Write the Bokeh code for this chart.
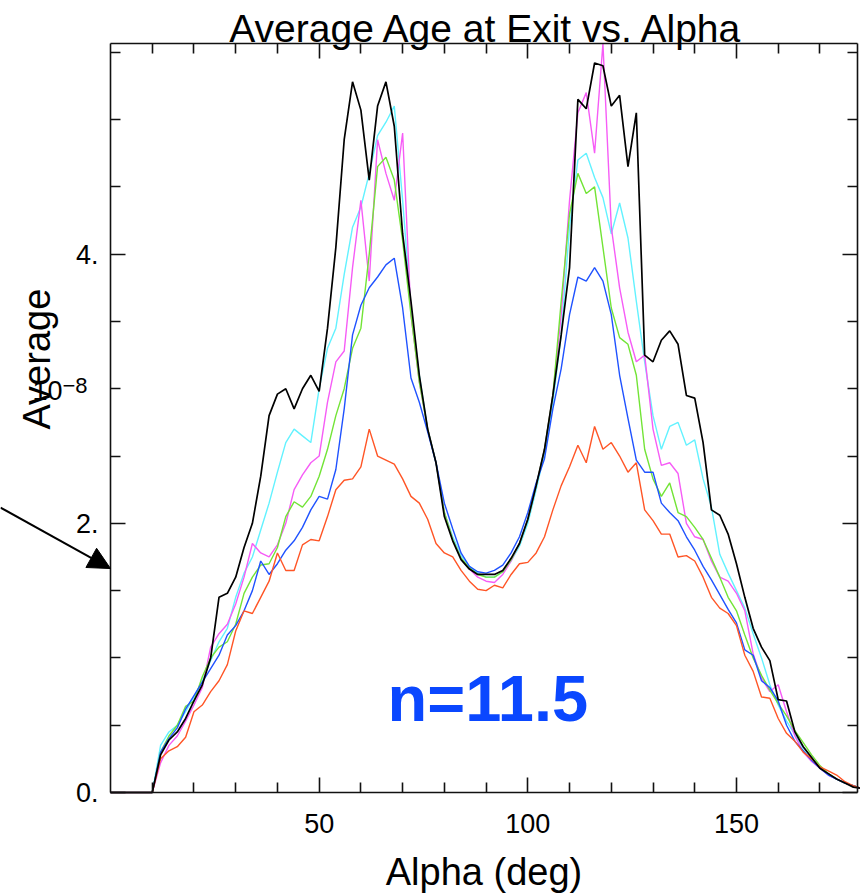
import math
from bokeh.plotting import figure
from bokeh.models import (Range1d, FixedTicker, LinearAxis, Label, Arrow,
                          NormalHead, CustomJSTickFormatter)
from bokeh.embed import file_html
from bokeh.resources import INLINE

# ---------------- data (Average age at exit, units of 1e-8) ----------------
alpha = list(range(0, 181, 2))  # Alpha (deg)

black = [0, 0, 0, 0, 0, 0, 0.28, 0.39, 0.45, 0.55,
         0.68, 0.80, 1.00, 1.45, 1.48, 1.60, 1.82, 2.00, 2.35, 2.80,
         2.96, 3.00, 2.85, 3.00, 3.10, 2.98, 3.45, 4.05, 4.85, 5.28,
         5.07, 4.55, 5.10, 5.28, 4.95, 4.15, 3.65, 3.10, 2.70, 2.45,
         2.05, 1.87, 1.73, 1.66, 1.62, 1.62, 1.62, 1.65, 1.74, 1.85,
         2.03, 2.28, 2.55, 2.95, 3.40, 3.90, 5.15, 5.08, 5.42, 5.40,
         5.10, 5.18, 4.65, 5.05, 3.25, 3.20, 3.36, 3.43, 3.33, 2.95,
         2.93, 2.60, 2.10, 2.06, 1.92, 1.70, 1.45, 1.22, 1.08, 0.98,
         0.69, 0.68, 0.45, 0.34, 0.26, 0.18, 0.14, 0.10, 0.07, 0.04,
         0.03]

cyan = [0, 0, 0, 0, 0, 0, 0.35, 0.45, 0.50, 0.60,
        0.71, 0.83, 0.98, 1.12, 1.22, 1.45, 1.63, 1.75, 1.95, 2.15,
        2.38, 2.60, 2.70, 2.65, 2.60, 3.00, 3.30, 3.45, 3.85, 4.20,
        4.35, 4.60, 4.88, 4.98, 5.10, 4.40, 3.60, 3.10, 2.70, 2.45,
        2.08, 1.90, 1.76, 1.68, 1.63, 1.60, 1.60, 1.64, 1.72, 1.83,
        2.00, 2.25, 2.52, 2.90, 3.40, 4.20, 4.70, 4.75, 4.57, 4.42,
        4.15, 4.38, 4.12, 3.65, 3.20, 2.80, 2.55, 2.72, 2.75, 2.58,
        2.62, 2.33, 2.12, 1.77, 1.63, 1.50, 1.37, 1.18, 1.00, 0.80,
        0.65, 0.53, 0.43, 0.33, 0.26, 0.18, 0.14, 0.10, 0.07, 0.05,
        0.03]

magenta = [0, 0, 0, 0, 0, 0, 0.22, 0.35, 0.42, 0.53,
           0.65, 0.78, 1.08, 1.18, 1.25, 1.40, 1.60, 1.85, 1.78, 1.75,
           1.84, 2.00, 2.25, 2.36, 2.45, 2.50, 2.90, 3.20, 3.28, 3.90,
           4.40, 3.80, 4.85, 4.60, 4.40, 4.90, 3.55, 3.05, 2.70, 2.45,
           2.08, 1.88, 1.74, 1.66, 1.60, 1.57, 1.56, 1.62, 1.72, 1.85,
           2.03, 2.28, 2.55, 2.95, 3.55, 4.40, 5.05, 5.20, 4.75, 5.565,
           4.20, 3.75, 3.42, 3.20, 3.25, 2.70, 2.43, 2.45, 2.37, 2.00,
           1.90, 1.88, 1.72, 1.60, 1.57, 1.48, 1.35, 1.03, 0.85, 0.75,
           0.80, 0.60, 0.42, 0.30, 0.23, 0.18, 0.13, 0.10, 0.07, 0.05,
           0.03]

green = [0, 0, 0, 0, 0, 0, 0.30, 0.42, 0.50, 0.64,
         0.68, 0.86, 1.00, 1.08, 1.12, 1.25, 1.48, 1.60, 1.69, 1.70,
         1.82, 2.05, 2.16, 2.12, 2.20, 2.35, 2.55, 2.80, 3.00, 3.30,
         3.45, 4.00, 4.65, 4.72, 4.55, 4.10, 3.55, 3.05, 2.70, 2.45,
         2.08, 1.88, 1.74, 1.67, 1.62, 1.60, 1.60, 1.64, 1.73, 1.85,
         2.03, 2.28, 2.55, 2.95, 3.65, 4.30, 4.60, 4.45, 4.50, 4.05,
         3.60, 3.38, 3.33, 3.10, 2.55, 2.33, 2.20, 2.30, 2.08, 2.05,
         1.97, 1.88, 1.74, 1.60, 1.45, 1.35, 1.17, 1.00, 0.87, 0.76,
         0.66, 0.57, 0.46, 0.37, 0.28, 0.20, 0.14, 0.10, 0.07, 0.05,
         0.03]

blue = [0, 0, 0, 0, 0, 0, 0.30, 0.40, 0.48, 0.62,
        0.72, 0.82, 0.92, 1.02, 1.17, 1.24, 1.35, 1.50, 1.72, 1.62,
        1.70, 1.80, 1.87, 1.97, 2.10, 2.20, 2.18, 2.40, 2.85, 3.40,
        3.62, 3.75, 3.83, 3.92, 3.97, 3.60, 3.08, 2.90, 2.68, 2.45,
        2.15, 1.96, 1.78, 1.68, 1.64, 1.63, 1.65, 1.69, 1.78, 1.90,
        2.08, 2.30, 2.48, 2.85, 3.15, 3.55, 3.83, 3.80, 3.90, 3.80,
        3.55, 3.10, 2.78, 2.47, 2.38, 2.38, 2.15, 2.08, 2.02, 1.90,
        1.80, 1.68, 1.58, 1.47, 1.36, 1.26, 1.06, 1.02, 0.83, 0.78,
        0.68, 0.50, 0.38, 0.31, 0.24, 0.18, 0.13, 0.10, 0.07, 0.05,
        0.03]

red = [0, 0, 0, 0, 0, 0, 0.25, 0.31, 0.34, 0.41,
       0.60, 0.65, 0.75, 0.83, 0.95, 1.20, 1.35, 1.33, 1.45, 1.57,
       1.78, 1.65, 1.65, 1.84, 1.88, 1.87, 2.05, 2.25, 2.32, 2.33,
       2.42, 2.70, 2.50, 2.47, 2.44, 2.33, 2.20, 2.15, 2.03, 1.85,
       1.78, 1.75, 1.65, 1.57, 1.51, 1.50, 1.54, 1.52, 1.62, 1.70,
       1.71, 1.78, 1.90, 2.10, 2.28, 2.42, 2.58, 2.45, 2.72, 2.55,
       2.60, 2.50, 2.38, 2.45, 2.10, 2.02, 1.92, 1.92, 1.75, 1.76,
       1.72, 1.60, 1.45, 1.37, 1.33, 1.24, 1.02, 0.90, 0.71, 0.70,
       0.55, 0.44, 0.38, 0.30, 0.25, 0.19, 0.16, 0.13, 0.08, 0.05,
       0.03]

x_major = [50, 100, 150]
x_minor = [10, 20, 30, 40, 60, 70, 80, 90, 110, 120, 130, 140, 160, 170]
y_major = [0, 2, 4]
y_major_labels = {0: "0.", 2: "2.", 4: "4."}
y_minor = [0.5, 1, 1.5, 2.5, 3, 3.5, 4.5, 5, 5.5]

title_text = "Average Age at Exit vs. Alpha"
x_title = "Alpha (deg)"
y_title = "Average"
y_exp_base = "10"
y_exp = "\u22128"
note_text = "n=11.5"

FONT = "Liberation Sans"
X_MIN, X_MAX = 0, 179        # plot box limits (deg)
Y_MIN, Y_MAX = 0, 5.565      # plot box limits (1e-8)

# The frame spans the whole canvas; the axes are pinned to the plot box
# (fixed_location) so that texts outside the box are not clipped.
p = figure(width=860, height=893,
           x_range=Range1d(-26.36, 179.72), y_range=Range1d(-0.7504, 5.8845),
           output_backend="svg", toolbar_location=None,
           min_border_left=0, min_border_right=0,
           min_border_top=0, min_border_bottom=0)
p.title.visible = False
p.grid.visible = False
p.outline_line_color = None
p.background_fill_color = "white"
p.border_fill_color = "white"

xt = FixedTicker(ticks=x_major, minor_ticks=x_minor)
yt = FixedTicker(ticks=y_major, minor_ticks=y_minor)


def style(ax):
    ax.axis_line_color = "#111111"
    ax.axis_line_width = 1.6
    ax.major_tick_line_color = "#111111"
    ax.major_tick_line_width = 1.6
    ax.minor_tick_line_color = "#111111"
    ax.minor_tick_line_width = 1.6
    ax.major_tick_in = 15
    ax.major_tick_out = 0
    ax.minor_tick_in = 10
    ax.minor_tick_out = 0
    ax.major_label_text_font = FONT
    ax.major_label_text_font_size = "27px"
    ax.major_label_text_color = "black"


xa = p.xaxis[0]
xa.ticker = xt
style(xa)
xa.fixed_location = Y_MIN
xa.bounds = (X_MIN, X_MAX)
xa.major_label_standoff = 21
xa.axis_label = x_title
xa.axis_label_text_font = FONT
xa.axis_label_text_font_size = "38px"
xa.axis_label_text_font_style = "normal"
xa.axis_label_text_color = "black"
xa.axis_label_standoff = 15

ya = p.yaxis[0]
ya.ticker = yt
style(ya)
ya.fixed_location = X_MIN
ya.bounds = (Y_MIN, Y_MAX)
ya.major_label_overrides = y_major_labels
ya.major_label_standoff = 12

blank = "return ''"
top = LinearAxis(ticker=xt, formatter=CustomJSTickFormatter(code=blank),
                 fixed_location=Y_MAX, bounds=(X_MIN, X_MAX))
style(top)
top.major_label_standoff = 0
top.major_label_text_font_size = "1px"
p.add_layout(top, "above")

right = LinearAxis(ticker=yt, formatter=CustomJSTickFormatter(code=blank),
                   fixed_location=X_MAX, bounds=(Y_MIN, Y_MAX))
style(right)
right.major_label_standoff = 0
right.major_label_text_font_size = "1px"
p.add_layout(right, "right")

# ---------------- lines ----------------
series = [(cyan, "#62f2ff", 1.4), (magenta, "#f65cf6", 1.4),
          (green, "#72e436", 1.4), (blue, "#1f52ff", 1.4),
          (red, "#ff5526", 1.4), (black, "#000000", 1.7)]
for vals, col, w in series:
    p.line(alpha, vals, line_color=col, line_width=w)

# ---------------- texts / annotations ----------------
p.add_layout(Label(x=90.2, y=5.675, text=title_text, text_align="center",
                   text_baseline="alphabetic", text_font=FONT,
                   text_font_size="39px", text_color="black"))

p.add_layout(Label(x=-17.73, y=3.22, text=y_title, angle=math.pi / 2,
                   text_align="center", text_baseline="alphabetic",
                   text_font=FONT, text_font_size="38px", text_color="black"))
p.add_layout(Label(x=-11.5, y=2.987, text=y_exp_base, text_align="right",
                   text_baseline="alphabetic", text_font=FONT,
                   text_font_size="27px", text_color="black"))
p.add_layout(Label(x=-11.5, y=3.024, text=y_exp, text_align="left",
                   text_baseline="alphabetic", text_font=FONT,
                   text_font_size="22px", text_color="black"))

p.add_layout(Label(x=66.4, y=0.70, text=note_text, text_align="left",
                   text_baseline="alphabetic", text_font=FONT,
                   text_font_size="65px", text_font_style="bold",
                   text_color="#0a47ff"))

p.add_layout(Arrow(x_start=-26.36, y_start=2.1175, x_end=0, y_end=1.664,
                   line_color="black", line_width=2,
                   end=NormalHead(size=22, fill_color="black",
                                  line_color="black")))

open("out.html", "w").write(file_html(p, INLINE))
